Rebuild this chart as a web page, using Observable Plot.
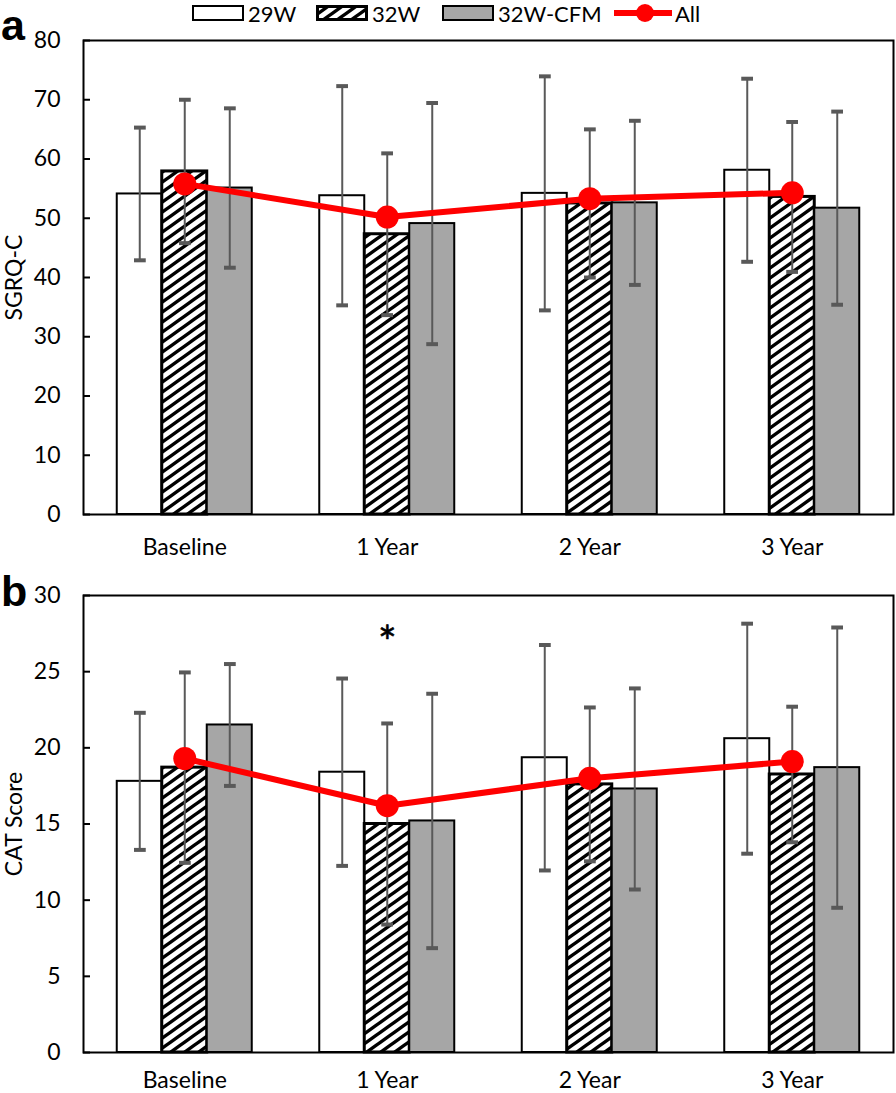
<!DOCTYPE html>
<html>
<head>
<meta charset="utf-8">
<script src="https://cdn.jsdelivr.net/npm/d3@7"></script>
<script src="https://cdn.jsdelivr.net/npm/@observablehq/plot@0.6"></script>
<style>
  body { margin: 0; background: #fff; font-family: Lato, "Open Sans", sans-serif; }
  #root { position: relative; width: 896px; height: 1093px; overflow: hidden; background: #fff; }
  .abs { position: absolute; }
  .lg-text { position: absolute; font-size: 22px; line-height: 27px; top: 0px; color: #000; white-space: nowrap; }
  .panel-label { position: absolute; font-family: "Liberation Sans", Arial, sans-serif; font-weight: bold; font-size: 43px; line-height: 50px; color: #000; }
  svg { display: block; }
</style>
</head>
<body>
<div id="root"></div>
<script>
// ---------- data ----------
const categories = ["Baseline", "1 Year", "2 Year", "3 Year"];
const series = ["29W", "32W", "32W-CFM"];

// Panel a: SGRQ-C (mean and SD)
const sgrq29W   = [54.1, 53.8, 54.2, 58.1];
const sgrq32W   = [57.9, 47.3, 52.5, 53.6];
const sgrqCFM   = [55.1, 49.1, 52.6, 51.7];
const sgrqSd29W = [11.2, 18.5, 19.75, 15.45];
const sgrqSd32W = [12.1, 13.65, 12.5, 12.65];
const sgrqSdCFM = [13.45, 20.35, 13.85, 16.3];
const sgrqAll   = [55.8, 50.2, 53.3, 54.3];
const sgrqTicks = [0, 10, 20, 30, 40, 50, 60, 70, 80];

// Panel b: CAT score (mean and SD)
const cat29W   = [17.8, 18.4, 19.35, 20.6];
const cat32W   = [18.7, 15.0, 17.6, 18.25];
const catCFM   = [21.5, 15.2, 17.3, 18.7];
const catSd29W = [4.5, 6.15, 7.4, 7.55];
const catSd32W = [6.25, 6.6, 5.05, 4.45];
const catSdCFM = [4.0, 8.35, 6.6, 9.2];
const catAll   = [19.3, 16.2, 18.0, 19.1];
const catTicks = [0, 5, 10, 15, 20, 25, 30];
const catSignificance = [{category: "1 Year", value: 27.6, label: "*"}];

// ---------- helpers ----------
const groupFrac = 2 / 3;               // share of each category band covered by the 3 bars
const barFrac = groupFrac / series.length;

function buildRows(meansList, sdsList) {
  const rows = [];
  categories.forEach((c, i) => {
    series.forEach((s, k) => {
      rows.push({i, k, category: c, series: s, mean: meansList[k][i], sd: sdsList[k][i]});
    });
  });
  return rows;
}

function hatchDefs(id) {
  return () => {
    const defs = d3.create("svg:defs");
    const p = defs.append("pattern")
      .attr("id", id)
      .attr("patternUnits", "userSpaceOnUse")
      .attr("width", 14).attr("height", 10);
    p.append("rect").attr("width", 14).attr("height", 10).attr("fill", "white");
    p.append("path")
      .attr("d", "M0,10L14,0M-7,5L7,-5M7,15L21,5")
      .attr("stroke", "black").attr("stroke-width", 3.4).attr("fill", "none");
    return defs.node();
  };
}

function panel({means, sds, all, ticks, yMax, label, height, marginTop, marginBottom, xPad, id, notes}) {
  const rows = buildRows(means, sds);
  const allRows = categories.map((c, i) => ({i, category: c, value: all[i]}));
  const fills = ["white", `url(#${id})`, "#a6a6a6"];
  const x1 = d => d.i - groupFrac / 2 + d.k * barFrac;
  const x2 = d => x1(d) + barFrac;
  const xc = d => x1(d) + barFrac / 2;
  const marks = [hatchDefs(id)];
  series.forEach((s, k) => {
    marks.push(Plot.rect(rows.filter(d => d.k === k), {
      x1, x2, y1: 0, y2: "mean",
      fill: fills[k], stroke: "black", strokeWidth: k === 1 ? 3 : 2
    }));
  });
  marks.push(
    Plot.link(rows, {
      x1: xc, x2: xc, y1: d => d.mean - d.sd, y2: d => d.mean + d.sd,
      stroke: "#595959", strokeWidth: 2, markerStart: "tick", markerEnd: "tick"
    }),
    Plot.line(allRows, {x: "i", y: "value", stroke: "#ff0000", strokeWidth: 6}),
    Plot.dot(allRows, {x: "i", y: "value", r: 11.5, fill: "#ff0000"})
  );
  if (notes) {
    marks.push(Plot.text(notes, {
      x: d => categories.indexOf(d.category), y: "value", text: "label",
      fontSize: 44, dy: 12, fill: "black", stroke: "black", strokeWidth: 0.6
    }));
  }
  marks.push(
    Plot.frame({stroke: "black", strokeWidth: 2}),
    Plot.axisY({ticks, tickSize: -7, tickPadding: 30, strokeWidth: 2,
      label, labelAnchor: "center", labelOffset: 78, labelArrow: "none"}),
    Plot.axisX({ticks: categories.map((c, i) => i), tickFormat: i => categories[i],
      tickSize: 0, tickPadding: xPad, label: null})
  );
  return Plot.plot({
    width: 896, height,
    marginLeft: 83, marginRight: 3, marginTop, marginBottom,
    style: {fontFamily: "Lato, 'Open Sans', sans-serif", fontSize: "23px", color: "black", background: "white", overflow: "visible"},
    x: {type: "linear", domain: [-0.5, 3.5]},
    y: {domain: [0, yMax]},
    marks
  });
}

// ---------- layout ----------
const root = document.getElementById("root");

// Legend (HTML above the first SVG)
const legend = document.createElement("div");
legend.style.cssText = "position:relative;height:28px;";
legend.innerHTML = `
  <svg class="abs" style="left:192px;top:5px" width="52" height="16"><rect x="1" y="1" width="50" height="14" fill="white" stroke="black" stroke-width="2"/></svg>
  <span class="lg-text" style="left:248px">29W</span>
  <svg class="abs" style="left:316px;top:5px" width="52" height="16">
    <defs><pattern id="lgHatch" patternUnits="userSpaceOnUse" width="14" height="10">
      <rect width="14" height="10" fill="white"/>
      <path d="M0,10L14,0M-7,5L7,-5M7,15L21,5" stroke="black" stroke-width="3.4"/></pattern></defs>
    <rect x="1.5" y="1.5" width="49" height="13" fill="url(#lgHatch)" stroke="black" stroke-width="3"/></svg>
  <span class="lg-text" style="left:372px">32W</span>
  <svg class="abs" style="left:442px;top:5px" width="52" height="16"><rect x="1" y="1" width="50" height="14" fill="#a6a6a6" stroke="black" stroke-width="2"/></svg>
  <span class="lg-text" style="left:498px">32W-CFM</span>
  <svg class="abs" style="left:612px;top:1px" width="62" height="24"><line x1="2" y1="12" x2="60" y2="12" stroke="#ff0000" stroke-width="6"/><circle cx="33" cy="12" r="9" fill="#ff0000"/></svg>
  <span class="lg-text" style="left:675px">All</span>
`;
root.appendChild(legend);

const a = panel({
  means: [sgrq29W, sgrq32W, sgrqCFM], sds: [sgrqSd29W, sgrqSd32W, sgrqSdCFM],
  all: sgrqAll, ticks: sgrqTicks, yMax: 80, label: "SGRQ-C",
  height: 536, marginTop: 12, marginBottom: 50, xPad: 24, id: "hatchA"
});
root.appendChild(a);

const b = panel({
  means: [cat29W, cat32W, catCFM], sds: [catSd29W, catSd32W, catSdCFM],
  all: catAll, ticks: catTicks, yMax: 30, label: "CAT Score",
  height: 529, marginTop: 31, marginBottom: 41, xPad: 19, id: "hatchB", notes: catSignificance
});
root.appendChild(b);

// Panel letters
const la = document.createElement("div");
la.className = "panel-label"; la.textContent = "a";
la.style.left = "1px"; la.style.top = "0px";
root.appendChild(la);
const lb = document.createElement("div");
lb.className = "panel-label"; lb.textContent = "b";
lb.style.left = "1px"; lb.style.top = "566px";
root.appendChild(lb);
</script>
</body>
</html>
